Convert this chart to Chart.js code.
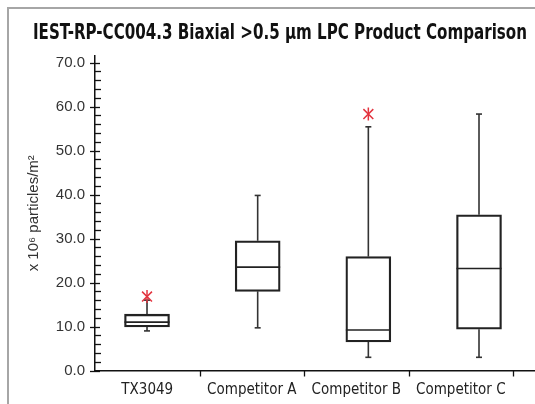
<!DOCTYPE html>
<html>
<head>
<meta charset="utf-8">
<script src="https://cdn.jsdelivr.net/npm/chart.js@4.4.1/dist/chart.umd.min.js"></script>
<style>
  html, body { margin: 0; padding: 0; background: #fff; }
  #wrap { position: relative; width: 535px; height: 404px; overflow: hidden; }
  #frame { position: absolute; left: 7px; top: 7px; width: 600px; height: 600px; border-left: 2px solid #a6a6a6; border-top: 2px solid #a6a6a6; }
  canvas { position: absolute; left: 0; top: 0; }
</style>
</head>
<body>
<div id="wrap"><div id="frame"></div><canvas id="boxChart" width="535" height="404"></canvas></div>
<script>
const chartTitle = 'IEST-RP-CC004.3 Biaxial >0.5 µm LPC Product Comparison';
const categories = ['TX3049', 'Competitor A', 'Competitor B', 'Competitor C'];
const whiskerLow = [9.0, 9.7, 3.0, 3.0];
const quartile1 = [9.9, 18.0, 6.5, 9.4];
const medians = [11.0, 23.5, 9.2, 23.2];
const quartile3 = [12.8, 29.5, 25.9, 35.4];
const whiskerHigh = [16.0, 39.8, 55.4, 58.3];
const outliers = [[16.8], [], [58.3], []];
const yLabelTicks = [0, 10, 20, 30, 40, 50, 60, 70];

const colors = {
    box: '#222',
    whisker: '#333',
    outlier: '#e3343f',
    text: '#222',
    axis: '#111'
};
const narrow = "'Liberation Sans Narrow', 'DejaVu Sans Condensed', sans-serif";
const regular = "'Liberation Sans', Arial, sans-serif";

const outlierPoints = [];
outliers.forEach((list, i) => list.forEach(v => outlierPoints.push({ x: i, y: v })));

// усики, медіани, заголовок та засічки осей
const boxParts = {
    id: 'boxParts',
    beforeDatasetsDraw(chart) {
        const { ctx } = chart;
        const xs = chart.scales.xb, ys = chart.scales.y;
        const half = 22.5, cap = 3;
        ctx.save();
        ctx.strokeStyle = colors.whisker;
        ctx.lineWidth = 1.6;
        categories.forEach((c, i) => {
            const x = xs.getPixelForValue(i);
            const line = (x1, y1, x2, y2) => {
                ctx.beginPath(); ctx.moveTo(x1, y1); ctx.lineTo(x2, y2); ctx.stroke();
            };
            line(x, ys.getPixelForValue(quartile3[i]), x, ys.getPixelForValue(whiskerHigh[i]));
            line(x, ys.getPixelForValue(quartile1[i]), x, ys.getPixelForValue(whiskerLow[i]));
            line(x - cap, ys.getPixelForValue(whiskerHigh[i]), x + cap, ys.getPixelForValue(whiskerHigh[i]));
            line(x - cap, ys.getPixelForValue(whiskerLow[i]), x + cap, ys.getPixelForValue(whiskerLow[i]));
            ctx.strokeStyle = colors.box;
            line(x - half, ys.getPixelForValue(medians[i]), x + half, ys.getPixelForValue(medians[i]));
            ctx.strokeStyle = colors.whisker;
        });
        ctx.restore();
    },
    afterDraw(chart) {
        const { ctx, chartArea } = chart;
        const ys = chart.scales.y, xl = chart.scales.x;
        const ax = ys.right;
        ctx.save();
        ctx.strokeStyle = colors.axis;
        ctx.lineWidth = 1.3;
        for (let v = 0; v <= 70; v += 2) {
            const y = Math.round(ys.getPixelForValue(v)) + 0.5;
            const major = v % 10 === 0;
            ctx.beginPath();
            ctx.moveTo(major ? ax - 5 : ax, y);
            ctx.lineTo(ax + (major ? 5 : 6), y);
            ctx.stroke();
        }
        categories.forEach((c, i) => {
            const x = Math.round(xl.getPixelForValue(i + 0.5)) + 0.5;
            ctx.beginPath();
            ctx.moveTo(x, chartArea.bottom);
            ctx.lineTo(x, chartArea.bottom + 6);
            ctx.stroke();
        });
        // заголовок, стиснутий до ширини як в оригіналі
        ctx.fillStyle = '#111';
        ctx.font = 'bold 21.5px ' + narrow;
        ctx.textAlign = 'center';
        ctx.textBaseline = 'alphabetic';
        ctx.fillText(chartTitle, 280, 38.5, 494);
        ctx.restore();
    }
};

new Chart(document.getElementById('boxChart'), {
    type: 'bar',
    data: {
        datasets: [
            {
                type: 'bar',
                data: categories.map((c, i) => ({ x: i, y: [quartile1[i], quartile3[i]] })),
                xAxisID: 'xb',
                yAxisID: 'y',
                backgroundColor: 'rgba(0,0,0,0)',
                borderColor: colors.box,
                borderWidth: 1.6,
                borderSkipped: false,
                barThickness: 45
            },
            {
                type: 'scatter',
                data: outlierPoints,
                xAxisID: 'xb',
                yAxisID: 'y',
                pointStyle: 'crossRot',
                radius: 7,
                borderColor: colors.outlier,
                borderWidth: 1.5
            },
            {
                type: 'scatter',
                data: outlierPoints,
                xAxisID: 'xb',
                yAxisID: 'y',
                pointStyle: 'line',
                rotation: 90,
                radius: 6.5,
                borderColor: colors.outlier,
                borderWidth: 1.5
            }
        ]
    },
    options: {
        responsive: false,
        animation: false,
        layout: { autoPadding: false, padding: { left: 25, right: 0, top: 56, bottom: 0 } },
        plugins: {
            legend: { display: false },
            tooltip: { enabled: false },
            title: { display: false }
        },
        scales: {
            xb: { type: 'linear', display: false, offset: false, min: -0.47, max: 3.506 },
            x: {
                type: 'linear',
                position: 'bottom',
                offset: false,
                min: -0.5,
                max: 3.71,
                afterBuildTicks: (s) => { s.ticks = categories.map((c, i) => ({ value: i })); },
                ticks: {
                    callback: (v) => categories[v],
                    autoSkip: false,
                    maxRotation: 0,
                    color: colors.text,
                    padding: 11,
                    font: { family: narrow, size: 15 }
                },
                grid: { display: false, drawTicks: false, offset: false },
                border: { display: true, color: colors.axis, width: 1.5 },
                afterFit: (s) => { s.height = 33.5; s.paddingLeft = 0; s.paddingRight = 0; }
            },
            y: {
                min: 0,
                max: 71.5,
                ticks: {
                    stepSize: 2,
                    includeBounds: false,
                    autoSkip: false,
                    callback: (v) => yLabelTicks.includes(v) ? v.toFixed(1) : '',
                    color: '#333',
                    padding: 10,
                    font: { family: regular, size: 15 }
                },
                grid: { display: false, drawTicks: false },
                border: { display: true, color: colors.axis, width: 1.5 },
                title: {
                    display: true,
                    text: 'x 10⁶ particles/m²',
                    color: '#333',
                    padding: { top: 0, bottom: 0 },
                    font: { family: regular, size: 15 }
                },
                afterFit: (s) => { s.width = 70; s.paddingTop = 0; s.paddingBottom = 0; }
            }
        }
    },
    plugins: [boxParts]
});
</script>
</body>
</html>
